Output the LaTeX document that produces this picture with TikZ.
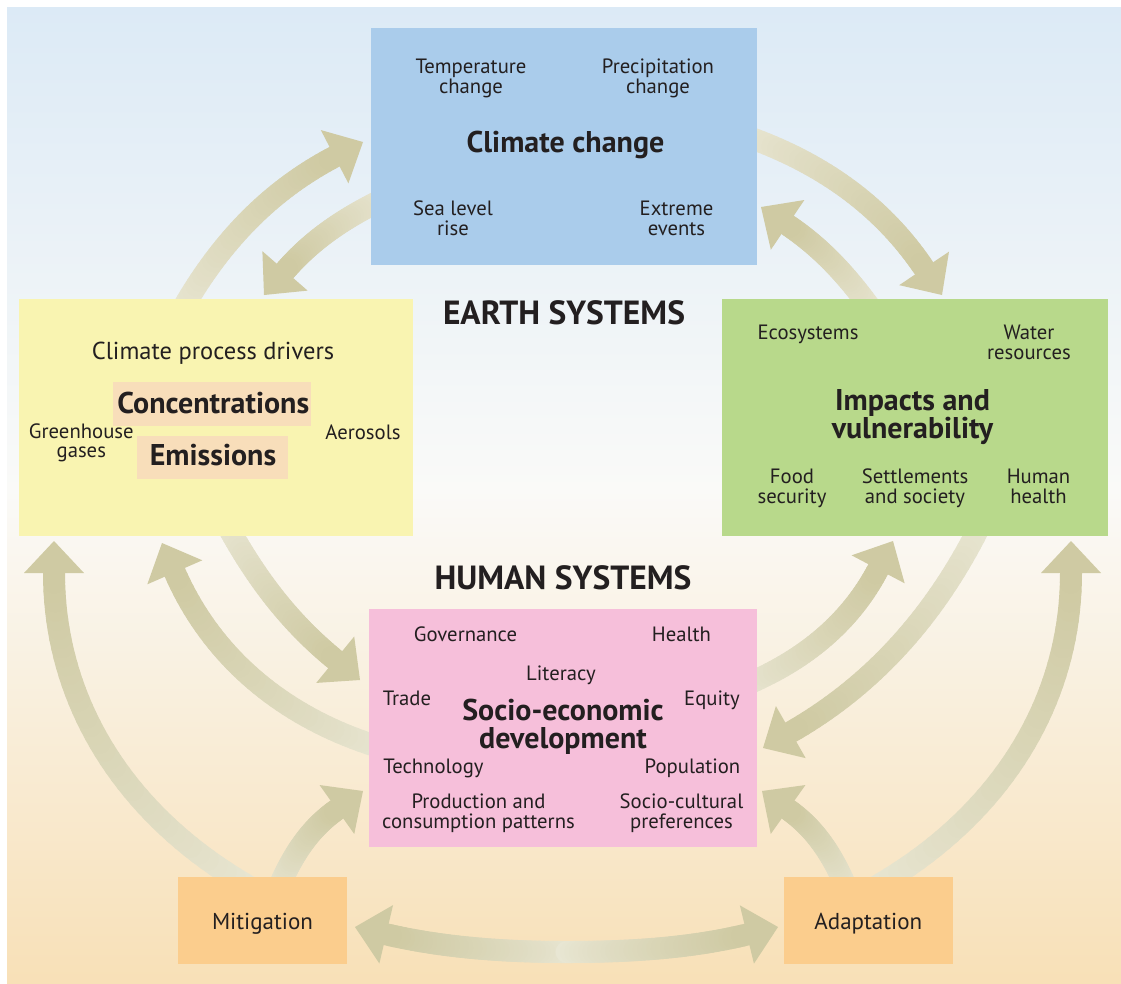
\documentclass[tikz,border=0pt]{standalone}
\usepackage{fontspec}
\setmainfont{PT Sans}
\usetikzlibrary{calc}
\definecolor{bgtop}{RGB}{220,234,246}
\definecolor{bgmid}{RGB}{250,250,248}
\definecolor{bgbot}{RGB}{248,224,183}
\definecolor{bluec}{RGB}{170,204,235}
\definecolor{yellowc}{RGB}{249,244,177}
\definecolor{greenc}{RGB}{184,217,139}
\definecolor{pinkc}{RGB}{246,191,218}
\definecolor{orangec}{RGB}{251,205,141}
\definecolor{peachc}{RGB}{248,222,186}
\definecolor{textc}{RGB}{35,31,32}
\definecolor{arrc}{RGB}{207,202,163}
\definecolor{fadc}{RGB}{236,234,218}
\pgfdeclarelayer{bglayer}
\pgfdeclarelayer{arrlayer}
\pgfsetlayers{bglayer,arrlayer,main}
\tikzset{
  box/.style={inner sep=0pt, outer sep=0pt, anchor=north west},
  shaft/.style={line width=22pt, line cap=round},
  txt/.style={font=\fontsize{20.7}{20}\selectfont, align=center, text=textc, inner sep=0pt, anchor=base},
  txttight/.style={txt, font=\fontsize{20.7}{19.5}\selectfont},
  ttl/.style={font=\bfseries\fontsize{30}{27.5}\selectfont, align=center, text=textc, inner sep=0pt, anchor=base},
  head/.style={font=\bfseries\fontsize{33.5}{33}\selectfont, text=textc, inner sep=0pt, anchor=base},
  act/.style={font=\fontsize{23}{23}\selectfont, text=textc, inner sep=0pt, anchor=base},
}
% #1 name, #2 tail, #3 c1, #4 c2, #5 head base, #6 tip
\newcommand\fatarrow[6]{%
  \coordinate (#1t) at #2;
  \coordinate (#1b) at #5;
  \coordinate (#1p) at #6;
  \path (#1t) .. controls #3 and #4 .. (#1b)
    foreach \kn [evaluate=\kn as \tv using \kn/40] in {0,...,40} {coordinate[pos=\tv] (#1q\kn)};
  \foreach \kn [evaluate=\kn as \kk using int(\kn+1), evaluate=\kn as \cv using {10+90*((\kn+0.5)/40)^0.8}] in {0,...,39}
    \draw[shaft, draw=arrc!\cv!fadc] (#1q\kn) -- (#1q\kk);
  \fill[arrc] (#1p) -- ($(#1b)!30pt!90:(#1p)$) -- ($(#1b)!30pt!-90:(#1p)$) -- cycle;
}
\begin{document}
\begin{tikzpicture}[x=1pt,y=-1pt]
\useasboundingbox (0,0) rectangle (1121,983);
\begin{pgfonlayer}{bglayer}
  \fill[white] (0,0) rectangle (1121,983);
  \shade[top color=bgtop, bottom color=bgmid] (7,7) rectangle (1121,490);
  \shade[top color=bgmid, bottom color=bgbot] (7,489.5) rectangle (1121,983);
\end{pgfonlayer}

\begin{pgfonlayer}{arrlayer}
  \fatarrow{a1}{(180.7,312)}{(222.2,238.3)}{(273,189)}{(334.6,156.7)}{(363,142)}
  \fatarrow{a2}{(384.5,198.5)}{(338,221)}{(309,243.4)}{(285,270.9)}{(264,295)}
  \fatarrow{a3}{(742.8,135.1)}{(825,163.5)}{(883.8,208.6)}{(924.1,268.4)}{(942,295)}
  \fatarrow{a4}{(872.8,311.2)}{(843.2,270)}{(817.2,244.9)}{(787.6,224.9)}{(761,207)}
  \fatarrow{a5}{(225.8,522.8)}{(258.7,583.7)}{(293.4,625.5)}{(335.2,659.7)}{(360,680)}
  \fatarrow{a6}{(383.4,748.3)}{(282.1,718.3)}{(211,655.4)}{(174.8,572.3)}{(162,543)}
  \fatarrow{a7}{(253.8,889.3)}{(122.1,815.3)}{(54,699)}{(54,573)}{(54,541)}
  \fatarrow{a8}{(277.3,890.9)}{(294.3,849.9)}{(312.9,826.5)}{(336.9,809.5)}{(363,791)}
  \fatarrow{a9}{(741.1,686.7)}{(807.9,659.4)}{(851.5,619.8)}{(878.1,569.3)}{(893,541)}
  \fatarrow{a10}{(981.6,522.5)}{(934.5,618.2)}{(870.4,686.6)}{(790.8,732.1)}{(763,748)}
  \fatarrow{a11}{(847.7,890.9)}{(830.7,849.9)}{(812.1,826.5)}{(788.1,809.5)}{(762,791)}
  \fatarrow{a12}{(871.2,889.3)}{(1002.9,815.3)}{(1071,699)}{(1071,573)}{(1071,541)}
  \fatarrow{a13l}{(566.5,952)}{(506.5,952)}{(444.6,947.9)}{(386.2,934.3)}{(355,927)}
  \fatarrow{a13r}{(566.5,952)}{(626.5,952)}{(688.6,948.6)}{(746.9,934.5)}{(778,927)}
\end{pgfonlayer}

% boxes
\node[box, fill=bluec, minimum width=386pt, minimum height=237pt] (climate) at (371,28) {};
\node[box, fill=yellowc, minimum width=394pt, minimum height=237pt] (drivers) at (19,299) {};
\node[box, fill=greenc, minimum width=386pt, minimum height=237pt] (impacts) at (722,299) {};
\node[box, fill=pinkc, minimum width=388pt, minimum height=238pt] (socio) at (369,609) {};
\node[box, fill=orangec, minimum width=169pt, minimum height=87pt] (mitig) at (178,877) {};
\node[box, fill=orangec, minimum width=169pt, minimum height=87pt] (adapt) at (784,877) {};
\node[box, fill=peachc, minimum width=198pt, minimum height=44pt] (concbox) at (113,382) {};
\node[box, fill=peachc, minimum width=151pt, minimum height=43pt] (emisbox) at (137,436) {};

% climate change box (multi-line nodes: base = last line)
\node[txt] (temp) at (471,93.3) {Temperature\\change};
\node[txt] (precip) at (658,93.3) {Precipitation\\change};
\node[ttl] (cctitle) at (565.5,152.7) {Climate change};
\node[txt] (sea) at (453,235) {Sea level\\rise};
\node[txt] (extreme) at (676.5,235) {Extreme\\events};

\node[head] (earth) at (564,324) {EARTH SYSTEMS};
\node[head] (human) at (563,589) {HUMAN SYSTEMS};

% drivers box
\node[txt, font=\fontsize{24.5}{24}\selectfont] (cpd) at (213,359) {Climate process drivers};
\node[ttl] (conc) at (213.3,413) {Concentrations};
\node[ttl] (emis) at (213,465) {Emissions};
\node[txt, font=\fontsize{20.7}{19}\selectfont] (ghg) at (81.3,457) {Greenhouse\\gases};
\node[txt] (aero) at (363,439) {Aerosols};

% impacts box
\node[txt] (eco) at (808,339) {Ecosystems};
\node[txt] (water) at (1029,359) {Water\\resources};
\node[ttl, font=\bfseries\fontsize{30}{28}\selectfont] (imptitle) at (912.5,438) {Impacts and\\vulnerability};
\node[txt] (food) at (792,503.3) {Food\\security};
\node[txt] (settle) at (915,503.3) {Settlements\\and society};
\node[txt] (hhealth) at (1038.5,503.3) {Human\\health};

% socio box
\node[txt] (gov) at (465.5,641) {Governance};
\node[txt] (health) at (681.5,641) {Health};
\node[txt] (lit) at (561,680) {Literacy};
\node[txt] (trade) at (407,705) {Trade};
\node[txt] (equity) at (712,705) {Equity};
\node[ttl, font=\bfseries\fontsize{30}{28.5}\selectfont] (sectitle) at (563,748.5) {Socio-economic\\development};
\node[txt] (tech) at (433.5,773) {Technology};
\node[txt] (pop) at (692.5,773) {Population};
\node[txttight] (prod) at (478.5,828) {Production and\\consumption patterns};
\node[txttight] (scp) at (681.5,828) {Socio-cultural\\preferences};

\node[act] (mitt) at (262.5,929.3) {Mitigation};
\node[act] (adat) at (868.3,929.3) {Adaptation};
\end{tikzpicture}
\end{document}
